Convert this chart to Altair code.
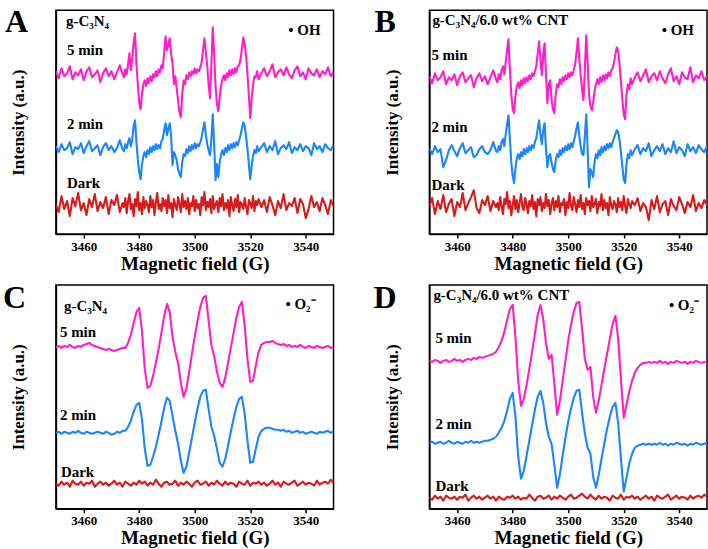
import numpy as np
import pandas as pd
import altair as alt

SERIF = "Liberation Serif"

# ---------------- data ----------------
# magnetic-field grids (G)
X_OH = np.concatenate([np.arange(3450, 3475, 1.0),
                       np.arange(3474.5, 3523.01, 0.5),
                       np.arange(3524, 3550.01, 1.0)])
X_O2 = np.arange(3450, 3551, 1.0)
TICKS = [3460, 3480, 3500, 3520, 3540]
SERIES = ["5 min", "2 min", "Dark"]
COLORS = ["#FF1EC8", "#1A85FF", "#D91A1A"]

# Panel A: g-C3N4, DMPO-•OH
A_5MIN = ([163,156,166,158,161,168,155,162,159,165,154,163,167,157,160,164,152,161,166,158,163,155,162,169,160]
          + [157,165,160,170,181,164,175,192,201,170,150,
             132,125,140,150,154,148,156,151,158,153,
             160,157,163,158,165,162,169,166,182,198,
             184,190,196,180,171,150,158,146,134,122,
             117,140,154,150,159,155,162,158,163,160,
             166,161,165,163,167,172,185,196,182,169,
             150,136,170,207,180,149,130,123,138,149,
             155,159,154,161,157,164,159,165,160,166,
             162,168,169,175,186,197,190,179,160,139,
             116,135,149,158,157,163,155]
          + [161,166,158,163,170,157,162,165,159,167,160,156,164,168,158,162,155,166,161,159,165,157,163,160,167,158,162])
A_2MIN = ([88,82,90,84,86,92,80,87,85,91,81,88,93,83,86,89,79,87,91,84,88,82,86,94,85]
          + [83,90,86,92,96,88,95,108,114,92,75,
             62,55,70,78,82,77,84,80,87,82,
             88,84,90,85,89,86,93,95,104,111,
             99,106,111,98,69,82,79,74,65,60,
             57,72,80,78,85,81,88,83,89,85,
             91,86,90,88,92,97,105,112,100,90,
             84,79,95,120,90,54,70,57,72,80,
             84,79,86,82,89,84,90,86,91,87,
             92,89,94,99,106,112,108,98,85,70,
             55,68,78,84,81,88,83]
          + [87,91,82,88,84,93,80,86,89,85,92,81,87,84,90,83,88,86,79,91,85,88,82,90,86,84,89])
A_DARK = ([30,22,38,25,33,18,36,28,41,24,31,19,35,27,40,23,32,26,37,20,34,29,39,22,31]
          + [27,36,21,33,40,25,30,18,35,28,42,24,31,20,37,26,33,29,22,38,27,34,19,32,41,25,30,23,36,28,
             34,21,39,26,31,17,35,29,24,37,30,22,40,27,33,25,36,20,31,28,38,23,34,26,30,19,37,29,42,24,
             32,27,35,21,38,25,30,33,22,36,28,40,24,31,26,34,18,37,29,23,35,27,39,22,32,30,25,36,28,20,
             34,31,26,38,23,33,29,35]
          + [27,34,22,37,29,19,33,26,40,24,31,28,36,21,35,30,16,25,38,27,32,23,36,29,20,34,28])

# Panel B: g-C3N4/6.0 wt% CNT, DMPO-•OH
B_5MIN = ([158,151,161,154,157,163,150,157,154,160,149,158,162,152,156,159,147,156,161,153,158,150,157,164,155]
          + [152,160,155,164,168,160,172,185,195,165,140,
             125,121,138,148,152,146,154,149,156,151,
             157,153,159,155,161,158,163,168,180,193,
             175,159,180,191,160,131,150,154,135,125,
             121,140,150,147,155,150,157,153,159,155,
             161,157,162,159,164,170,182,196,175,160,
             145,134,165,199,172,140,128,124,132,143,
             150,155,150,157,152,159,154,160,156,162,
             158,164,166,172,180,187,183,170,152,135,
             120,115,140,150,145,156,150]
          + [157,162,153,159,165,152,158,161,154,163,156,151,160,166,153,158,150,162,157,155,167,152,159,156,163,154,158])
B_2MIN = ([86,80,88,82,85,67,74,84,89,83,78,86,91,81,84,87,77,79,85,88,82,80,84,92,83]
          + [82,88,84,92,95,88,100,110,119,95,72,
             58,51,66,76,80,75,82,78,85,80,
             86,82,88,84,89,86,92,96,105,114,
             100,90,104,111,85,67,78,80,72,65,
             62,74,80,77,84,79,86,82,88,84,
             90,85,91,87,93,98,106,112,98,88,
             80,79,98,120,85,47,65,62,57,72,
             80,76,84,79,87,82,88,84,90,86,
             91,87,92,96,100,104,102,94,82,68,
             55,51,70,80,76,84,79]
          + [85,89,80,86,83,91,78,84,88,83,90,80,86,82,93,81,87,84,78,90,83,87,81,89,85,82,88])
B_DARK = ([28,36,20,33,25,39,22,30,35,18,32,27,41,24,31,37,44,26,21,34,29,38,23,33,27]
          + [31,24,37,28,20,35,30,42,26,33,19,29,38,25,34,22,31,40,27,24,36,30,21,33,28,39,25,32,18,35,
             29,37,23,31,26,40,28,34,20,30,36,24,33,27,38,22,31,29,35,19,32,26,41,28,24,37,30,22,34,27,
             39,25,31,20,36,29,33,23,38,27,30,35,21,32,28,40,24,34,26,31,19,37,29,25,33,30,22,36,27,32,
             24,38,28,21,35,30,26,33]
          + [29,36,23,31,27,14,34,25,38,22,30,33,19,35,28,24,37,30,21,32,27,39,23,31,26,34,29])

# Panel C: g-C3N4, DMPO-•O2-
C_5MIN = ([162,163,161,163,162,164,162,161,163,162,164,165,166,164,163,162,161,160,159,160,159,158,159,160,161]
          + [161,166,174,186,197,201,178,140,121,123,
             133,146,160,176,193,205,197,172,157,146,
             126,112,120,137,155,172,188,202,211,213,
             188,164,153,137,126,122,131,146,161,176,
             191,202,207,183,150,127,128,143,157,164,
             166,167,167,168,166,165]
          + [164,165,163,164,162,163,162,164,162,161,163,162,161,163,162,161,162,163,161,162])
C_2MIN = ([76,77,75,77,76,75,77,76,78,76,75,77,76,75,76,77,76,75,77,76,74,75,77,76,78]
          + [78,82,88,97,104,106,90,60,43,44,
             52,62,74,87,101,111,108,93,78,65,
             48,36,42,56,71,86,100,112,118,119,
             100,82,73,60,46,42,50,63,77,90,
             102,110,112,95,68,46,47,60,72,78,
             80,81,81,80,79,79]
          + [78,79,77,78,76,77,78,76,77,75,76,77,76,75,77,76,77,78,76,77])
C_DARK = [25,23,27,24,26,22,28,25,24,27,23,26,25,28,22,25,27,24,26,23,25,28,24,26,22,
          27,25,23,26,24,28,25,27,23,26,24,29,25,22,26,27,24,25,28,23,26,24,27,25,22,
          26,28,24,25,27,23,26,24,28,25,23,27,24,26,25,22,27,25,24,28,23,26,25,27,24,
          26,23,25,28,24,26,22,27,25,24,26,28,23,25,27,24,26,25,23,28,24,26,27,25,29,26]

# Panel D: g-C3N4/6.0 wt% CNT, DMPO-•O2-
D_5MIN = ([148,147,149,148,146,148,149,147,148,150,148,149,147,149,150,149,151,150,152,151,152,153,154,155,157]
          + [162,168,177,189,200,204,172,128,103,110,
             124,140,157,175,194,204,190,166,150,154,
             126,94,108,128,148,168,184,197,206,207,
             180,150,139,142,112,96,108,124,140,155,
             170,185,193,170,130,91,104,117,128,136,
             141,144,146,146,147,146]
          + [147,146,148,146,147,145,147,146,148,147,146,147,145,147,146,148,147,146,147,146])
D_2MIN = ([66,67,65,66,67,65,66,68,66,65,67,66,65,67,66,68,66,67,66,67,68,68,69,70,72]
          + [76,81,88,98,110,116,92,52,30,38,
             53,68,84,99,112,118,106,86,72,65,
             44,21,34,53,71,87,100,111,118,119,
             96,75,61,55,32,21,34,50,65,80,
             92,102,106,86,50,17,31,45,55,61,
             63,64,65,64,65,64]
          + [65,64,66,64,65,63,65,64,66,65,64,65,63,65,64,66,65,64,65,66])
D_DARK = [11,9,13,10,12,8,13,11,10,12,9,12,11,14,8,11,13,10,12,9,11,13,10,12,8,
          12,10,9,12,11,13,10,12,9,11,10,14,11,8,12,13,10,11,13,9,12,10,13,11,9,
          12,14,10,11,13,15,12,10,14,11,9,13,10,12,11,8,13,11,10,14,9,12,11,13,10,
          12,9,11,13,10,12,8,13,11,10,12,14,9,11,13,10,12,11,9,13,10,12,13,11,14,12]

MAT_1 = "g-C\u2083N\u2084"
MAT_2 = "g-C\u2083N\u2084/6.0 wt% CNT"
RAD_OH = "\u2022 OH"
RAD_O2 = "\u2022 O\u2082\u207B"

W, H = 278, 224


def spectra_df(x, curves):
    frames = []
    for name, vals in zip(SERIES, curves):
        assert len(vals) == len(x), (name, len(vals), len(x))
        frames.append(pd.DataFrame({"field": x, "intensity": vals, "series": name}))
    return pd.concat(frames, ignore_index=True)


def label(text, x, y, align="left", size=15, baseline="middle"):
    return alt.Chart(pd.DataFrame({"t": [text]})).mark_text(
        align=align, baseline=baseline, font=SERIF, fontWeight="bold",
        fontSize=size, color="black"
    ).encode(x=alt.value(x), y=alt.value(y), text="t:N")


def panel(letter, material, radical, x, curves, pos):
    df = spectra_df(x, curves)
    lines = alt.Chart(df).mark_line(strokeWidth=2.1, clip=True, strokeJoin="round").encode(
        x=alt.X("field:Q",
                scale=alt.Scale(domain=[3450, 3550], nice=False, zero=False),
                axis=alt.Axis(values=TICKS, format="d", title="Magnetic field (G)")),
        y=alt.Y("intensity:Q",
                scale=alt.Scale(domain=[0, 224], nice=False, zero=False),
                axis=alt.Axis(labels=False, ticks=False, title="Intensity (a.u.)")),
        color=alt.Color("series:N", scale=alt.Scale(domain=SERIES, range=COLORS), legend=None),
    )
    layers = [lines,
              label(letter, pos["letter"][0], pos["letter"][1], size=32, baseline="alphabetic"),
              label(material, *pos["mat"]),
              label(radical, *pos["rad"], align="right"),
              label("5 min", *pos["m5"]),
              label("2 min", *pos["m2"]),
              label("Dark", *pos["dark"])]
    return alt.layer(*layers).properties(width=W, height=H)


pA = panel("A", MAT_1, RAD_OH, X_OH, [A_5MIN, A_2MIN, A_DARK],
           {"letter": (-51, 22), "mat": (10, 11), "rad": (265, 20),
            "m5": (11, 40), "m2": (11, 114), "dark": (11, 173)})
pB = panel("B", MAT_2, RAD_OH, X_OH, [B_5MIN, B_2MIN, B_DARK],
           {"letter": (-55, 22), "mat": (3, 10), "rad": (265, 20),
            "m5": (2, 45), "m2": (2, 117), "dark": (2, 175)})
pC = panel("C", MAT_1, RAD_O2, X_O2, [C_5MIN, C_2MIN, C_DARK],
           {"letter": (-53, 23), "mat": (8, 21), "rad": (260, 19),
            "m5": (4, 47), "m2": (4, 130), "dark": (5, 187)})
pD = panel("D", MAT_2, RAD_O2, X_O2, [D_5MIN, D_2MIN, D_DARK],
           {"letter": (-56, 23), "mat": (4, 10), "rad": (270, 20),
            "m5": (6, 53), "m2": (6, 139), "dark": (6, 201)})

chart = alt.concat(
    pA, pB, pC, pD, columns=2, bounds="flush",
    spacing={"row": 51, "column": 96},
).properties(
    padding={"left": 2, "top": 5, "right": 0, "bottom": 0},
    background="white",
).configure_view(
    stroke="black", strokeWidth=1.5
).configure_axis(
    grid=False, domainColor="black", domainWidth=1.5,
    tickColor="black", tickWidth=1.5, tickSize=4,
    labelFont=SERIF, labelFontWeight="bold", labelFontSize=13, labelColor="black",
    labelPadding=2,
    titleFont=SERIF, titleFontWeight="bold", titleFontSize=19, titleColor="black",
).configure_axisX(
    titlePadding=1
).configure_axisY(
    titlePadding=28, titleFontSize=17
)

chart.save("out.html", embed_options={"renderer": "svg", "actions": False})
